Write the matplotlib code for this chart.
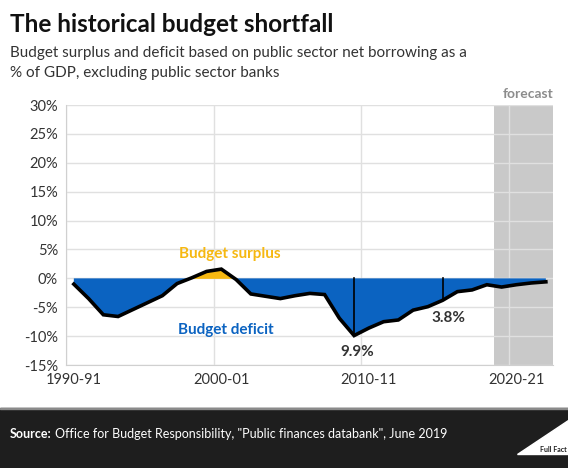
import numpy as np
from matplotlib import pyplot as plt
from matplotlib.patches import Polygon, Rectangle

# budget balance, % of GDP (negative = deficit), 1990-91 to 2022-23
years = ['1990-91', '1991-92', '1992-93', '1993-94', '1994-95', '1995-96', '1996-97',
         '1997-98', '1998-99', '1999-00', '2000-01', '2001-02', '2002-03', '2003-04',
         '2004-05', '2005-06', '2006-07', '2007-08', '2008-09', '2009-10', '2010-11',
         '2011-12', '2012-13', '2013-14', '2014-15', '2015-16', '2016-17', '2017-18',
         '2018-19', '2019-20', '2020-21', '2021-22', '2022-23']
balance = [-1.0, -3.5, -6.3, -6.6, -5.4, -4.2, -3.0, -0.9, 0.1, 1.2, 1.6, -0.2,
           -2.7, -3.1, -3.5, -3.0, -2.6, -2.8, -6.9, -9.9, -8.6, -7.5, -7.2, -5.5,
           -4.9, -3.8, -2.3, -2.0, -1.1, -1.5, -1.1, -0.8, -0.6]
tick_labels = ['1990-91', '2000-01', '2010-11', '2020-21']
forecast_start = '2019-20'
callouts = {'2009-10': '9.9%', '2015-16': '3.8%'}

blue = '#0b63c1'
gold = '#f6b811'
txt = '#333333'
plt.rcParams['font.family'] = ['Lato', 'DejaVu Sans']

fig = plt.figure(figsize=(5.68, 4.68), dpi=100)
ax = fig.add_axes([0.117, 0.220, 0.857, 0.5556])

x = np.arange(len(years)) + 0.5  # points sit in the middle of each category
y = np.array(balance)

# forecast shading
fs = years.index(forecast_start)
ax.axvspan(fs, len(years), color='#c9c9c9', zorder=0, lw=0)

ax.fill_between(x, y, 0, where=y < 0, interpolate=True, color=blue, lw=0, zorder=2)
ax.fill_between(x, y, 0, where=y > 0, interpolate=True, color=gold, lw=0, zorder=2)
ax.plot(x, y, color='black', lw=2.6, solid_joinstyle='miter', zorder=4)

# callout lines for 9.9% and 3.8%
for yr, lab in callouts.items():
    i = years.index(yr)
    ax.plot([x[i], x[i]], [0, balance[i]], color='black', lw=1.2, zorder=3)
ax.text(x[years.index('2009-10')] + 0.2, -12.8, '9.9%', ha='center', va='center',
        fontsize=11, fontweight='bold', color=txt)
ax.text(x[years.index('2015-16')] + 0.4, -6.9, '3.8%', ha='center', va='center',
        fontsize=11, fontweight='bold', color=txt)

ax.text(11.1, 4.3, 'Budget surplus', ha='center', va='center', fontsize=11,
        fontweight='bold', color=gold)
ax.text(10.8, -8.9, 'Budget deficit', ha='center', va='center', fontsize=11,
        fontweight='bold', color=blue)

ax.set_xlim(0, len(years))
ax.set_ylim(-15, 30)
ax.set_yticks(np.arange(-15, 31, 5))
ax.set_yticklabels([f'{v}%' for v in range(-15, 31, 5)])
# gridlines at category edges, labels in category middle
ax.set_xticks([years.index(t) for t in tick_labels])
ax.set_xticks([years.index(t) + 0.5 for t in tick_labels], minor=True)
ax.set_xticklabels([])
ax.set_xticklabels(tick_labels, minor=True)
ax.tick_params(which='both', length=0, labelsize=10.5, colors=txt, pad=6)
ax.grid(True, which='major', color='#e0e0e0', lw=1, zorder=1)
ax.set_axisbelow(True)
for s in ['top', 'right']:
    ax.spines[s].set_visible(False)
for s in ['left', 'bottom']:
    ax.spines[s].set_color('#d0d0d0')

ax.text(31.3, 30.8, 'forecast', ha='center', va='bottom', fontsize=10,
        fontweight='bold', color='#8c8c8c')

# titles
fig.text(0.018, 0.9316, 'The historical budget shortfall', fontsize=17.5,
         fontweight='bold', color='#111111', va='baseline')
fig.text(0.018, 0.8775, 'Budget surplus and deficit based on public sector net borrowing as a',
         fontsize=11, color=txt, va='baseline')
fig.text(0.018, 0.8348, '% of GDP, excluding public sector banks',
         fontsize=11, color=txt, va='baseline')

# footer band
fig.patches.append(Rectangle((0, 0), 1, 60 / 468, transform=fig.transFigure,
                             color='#1e1e1e', zorder=0))
fig.patches.append(Rectangle((0, 59 / 468), 1, 1.5 / 468, transform=fig.transFigure,
                             color='#8a8a8a', zorder=1))
src = fig.text(0.018, 0.0726, 'Source:', fontsize=9, fontweight='bold', color='white',
               va='center')
r = fig.canvas.get_renderer()
bb = src.get_window_extent(renderer=r)
fig.text((bb.x1 + 3) / fig.bbox.width, 0.0726,
         'Office for Budget Responsibility, "Public finances databank", June 2019',
         fontsize=9, color='white', va='center')
fig.patches.append(Polygon([[0.910, 0.030], [1.0, 0.030], [1.0, 0.1026]],
                           closed=True, transform=fig.transFigure, color='white'))
fig.text(0.998, 0.033, 'Full Fact', fontsize=5, fontweight='bold', color='#1e1e1e',
         ha='right', va='bottom')

fig.savefig('out.png', dpi=100)
